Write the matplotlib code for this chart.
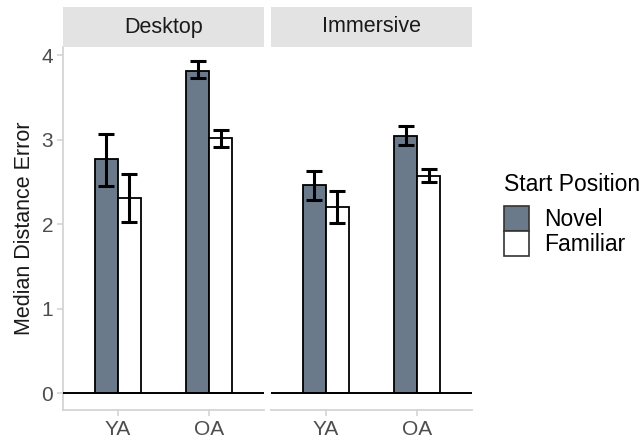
"""Median distance error by age group, start position and display type."""

import matplotlib

matplotlib.use("Agg")
import matplotlib.pyplot as plt  # noqa: E402
import numpy as np  # noqa: E402
from matplotlib.patches import Patch  # noqa: E402

plt.rcParams["font.family"] = ["Liberation Sans", "DejaVu Sans"]

panels = ["Desktop", "Immersive"]
groups = ["YA", "OA"]
starts = ["Novel", "Familiar"]

# per panel, one value per age group
novel_mean = {"Desktop": [2.77, 3.82], "Immersive": [2.46, 3.05]}
novel_lo = {"Desktop": [2.45, 3.73], "Immersive": [2.29, 2.94]}
novel_hi = {"Desktop": [3.07, 3.93], "Immersive": [2.63, 3.16]}
familiar_mean = {"Desktop": [2.31, 3.02], "Immersive": [2.20, 2.57]}
familiar_lo = {"Desktop": [2.03, 2.92], "Immersive": [2.01, 2.50]}
familiar_hi = {"Desktop": [2.60, 3.12], "Immersive": [2.39, 2.65]}

colors = {"Novel": "#6b7a8b", "Familiar": "#ffffff"}
axis_grey = "#d4d4d4"
text_grey = "#4d4d4d"

W, H = 642, 438
fig = plt.figure(figsize=(W / 100, H / 100), dpi=100)

panel_x = [(63, 264), (271, 472)]
top, bottom = 47, 410
strip_top = 7

bar_w = 0.25
x = np.arange(1, len(groups) + 1)

for i, panel in enumerate(panels):
    x0, x1 = panel_x[i]
    ax = fig.add_axes([x0 / W, 1 - bottom / H, (x1 - x0) / W, (bottom - top) / H])
    series = [
        ("Novel", novel_mean[panel], novel_lo[panel], novel_hi[panel], -bar_w / 2),
        ("Familiar", familiar_mean[panel], familiar_lo[panel], familiar_hi[panel], bar_w / 2),
    ]
    for name, mean, lo, hi, off in series:
        mean = np.array(mean)
        ax.bar(x + off, mean, width=bar_w, color=colors[name], edgecolor="black",
               linewidth=1.3, zorder=2)
        yerr = [mean - np.array(lo), np.array(hi) - mean]
        ax.errorbar(x + off, mean, yerr=yerr, fmt="none", ecolor="black",
                    elinewidth=2.2, capsize=6, capthick=2.2, zorder=3)
    ax.axhline(0, color="black", linewidth=1.4, zorder=4)
    ax.set_xlim(0.4, 2.6)
    ax.set_ylim(-0.2, 4.1)
    ax.set_xticks(x)
    ax.set_xticklabels(groups)
    ax.set_yticks([0, 1, 2, 3, 4])
    for s in ("top", "right"):
        ax.spines[s].set_visible(False)
    for s in ("left", "bottom"):
        ax.spines[s].set_color(axis_grey)
        ax.spines[s].set_linewidth(1.3)
    ax.tick_params(colors=axis_grey, labelcolor=text_grey, labelsize=15, length=4, width=1.2,
                   pad=3)
    if i == 0:
        ax.set_ylabel("Median Distance Error", fontsize=15.5, color="#1a1a1a", labelpad=5)
    else:
        ax.spines["left"].set_visible(False)
        ax.tick_params(axis="y", left=False, labelleft=False)

    sax = fig.add_axes([x0 / W, 1 - top / H, (x1 - x0) / W, (top - strip_top) / H])
    sax.set_facecolor("#e3e3e3")
    sax.set_xticks([])
    sax.set_yticks([])
    for s in sax.spines.values():
        s.set_visible(False)
    sax.text(0.5, 0.5, panel, ha="center", va="center", fontsize=15.5, color="#1a1a1a",
             transform=sax.transAxes)

handles = [Patch(facecolor=colors[s], edgecolor="#333333", linewidth=1.2, label=s) for s in starts]
leg = fig.legend(handles=handles, title="Start Position", loc="upper left",
                 bbox_to_anchor=(504 / W, 1 - 173 / H), frameon=False, fontsize=16.5,
                 title_fontsize=16.5, handlelength=1.1, handleheight=1.3, handletextpad=0.65,
                 labelspacing=0.0, borderpad=0, borderaxespad=0)
leg._legend_box.align = "left"
leg._legend_box.sep = 7

fig.savefig("out.png", dpi=100)
